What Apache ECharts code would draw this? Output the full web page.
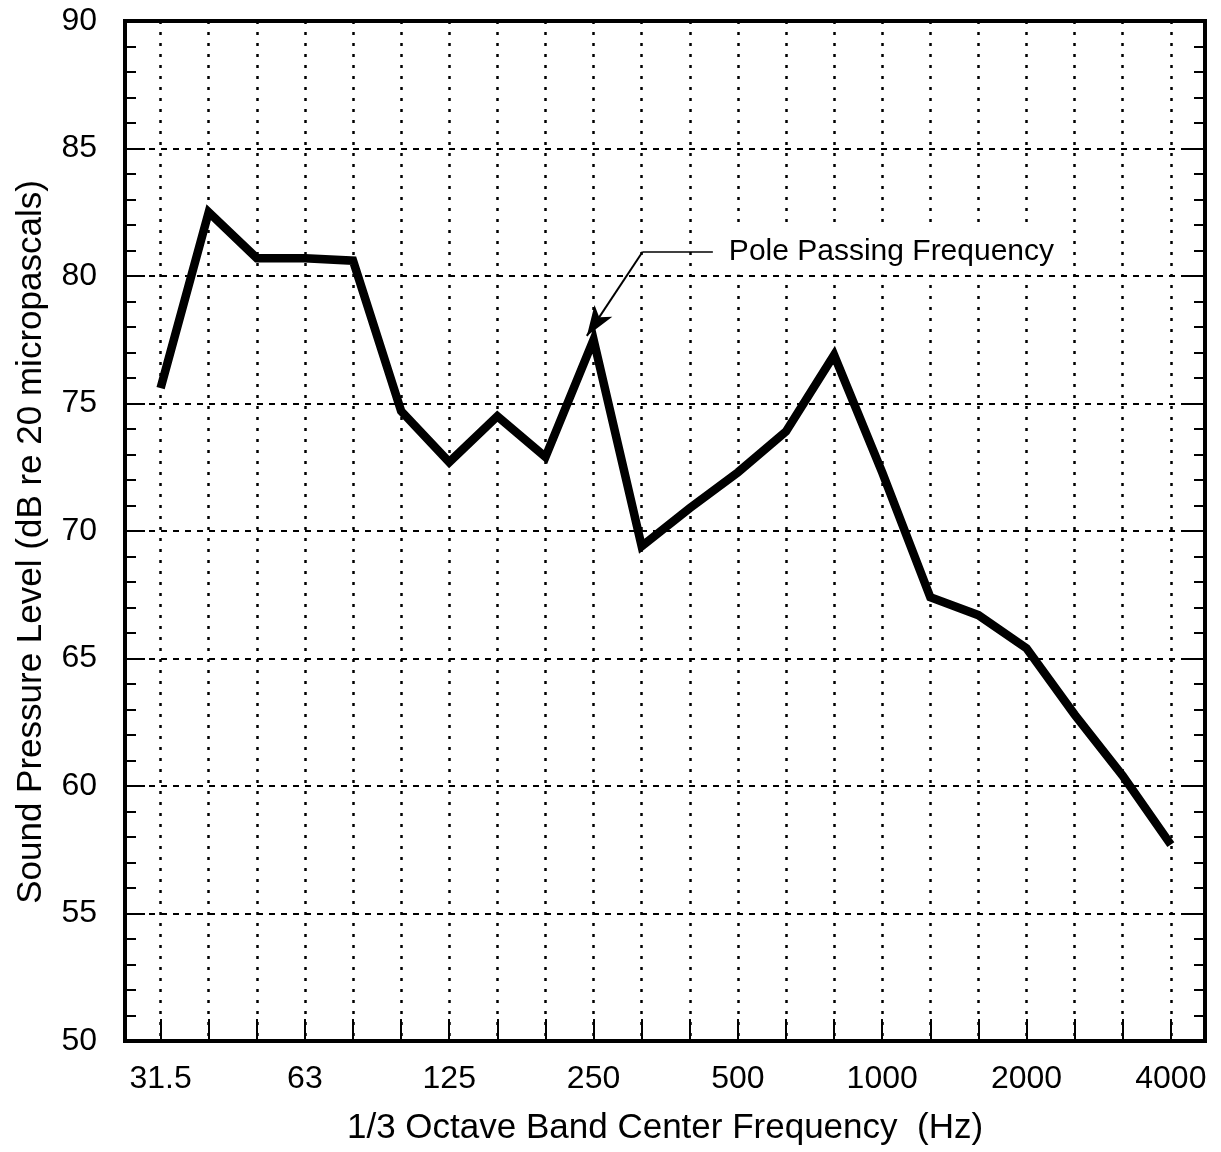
<!DOCTYPE html>
<html>
<head>
<meta charset="utf-8">
<script src="https://cdn.jsdelivr.net/npm/echarts@6/dist/echarts.min.js"></script>
<style>
html,body{margin:0;padding:0;background:#fff;}
#chart{width:1221px;height:1152px;}
</style>
</head>
<body>
<div id="chart"></div>
<script>
// 1/3 octave band centre frequencies (Hz)
const freqLabels = ['31.5','40','50','63','80','100','125','160','200','250','315','400','500','630','800','1000','1250','1600','2000','2500','3150','4000'];
// Sound pressure level (dB re 20 micropascals)
const splValues = [75.6, 82.5, 80.7, 80.7, 80.6, 74.7, 72.7, 74.5, 72.9, 77.5, 69.4, 70.9, 72.3, 73.9, 76.9, 72.3, 67.4, 66.7, 65.4, 62.8, 60.4, 57.7];
// labelled x ticks
const labelledFreqs = ['31.5','63','125','250','500','1000','2000','4000'];
// y axis range / step
const yMin = 50, yMax = 90, yStep = 5;
// annotation anchor points in data units [band index, dB]
const annotationText = 'Pole Passing Frequency';
const annoKink = [10.02, 80.95];
const annoTextStart = [11.48, 80.95];
const annoTip = [8.86, 77.65];

const FONT = '"Liberation Sans", Arial, Helvetica, sans-serif';
const chart = echarts.init(document.getElementById('chart'), null, {renderer: 'canvas'});

const seriesData = splValues.map((v, i) => [i, v]);

const yAxisCommon = {
  type: 'value', min: yMin, max: yMax, interval: yStep,
  axisLine: {show: true, onZero: false, lineStyle: {color: '#000', width: 4}},
  axisTick: {show: true, inside: true, length: 20, lineStyle: {color: '#000', width: 2}},
  minorTick: {show: true, splitNumber: 5, length: 11, lineStyle: {color: '#000', width: 2}},
};

const option = {
  animation: false,
  backgroundColor: '#fff',
  grid: {left: 125, top: 21, right: 16, bottom: 111, show: true, borderColor: '#000', borderWidth: 4},
  xAxis: {
    type: 'value', min: -0.74, max: 21.71, splitNumber: 22, minInterval: 1, maxInterval: 1,
    axisLine: {show: true, onZero: false, lineStyle: {color: '#000', width: 4}},
    axisTick: {show: true, inside: true, length: 22, lineStyle: {color: '#000', width: 2}},
    splitLine: {show: true, lineStyle: {color: '#000', width: 2.5, type: [3, 8]}},
    axisLabel: {
      color: '#000', fontSize: 32, fontFamily: FONT, margin: 22, showMinLabel: true, showMaxLabel: true,
      formatter: function (v) {
        if (Math.abs(v - Math.round(v)) > 1e-6) return '';
        const lab = freqLabels[Math.round(v)];
        return labelledFreqs.indexOf(lab) >= 0 ? lab : '';
      }
    },
    name: '1/3 Octave Band Center Frequency  (Hz)',
    nameLocation: 'middle', nameGap: 70,
    nameTextStyle: {color: '#000', fontSize: 35, fontFamily: FONT}
  },
  yAxis: [
    Object.assign({}, yAxisCommon, {
      position: 'left',
      splitLine: {show: true, lineStyle: {color: '#000', width: 2, type: [6, 6]}},
      axisLabel: {color: '#000', fontSize: 32, fontFamily: FONT, margin: 28},
      name: 'Sound Pressure Level (dB re 20 micropascals)',
      nameLocation: 'middle', nameGap: 76,
      nameTextStyle: {color: '#000', fontSize: 35, fontFamily: FONT, padding: [0, 22, 0, 0]}
    }),
    Object.assign({}, yAxisCommon, {
      position: 'right',
      splitLine: {show: false},
      axisLabel: {show: false}
    })
  ],
  series: [{
    type: 'line',
    yAxisIndex: 0,
    data: seriesData,
    symbol: 'none',
    lineStyle: {color: '#000', width: 8.5, join: 'miter', cap: 'butt'},
    markLine: {
      silent: true,
      symbol: ['none', 'none'],
      animation: false,
      data: [
        [
          {coord: annoKink, symbol: 'none', lineStyle: {color: '#000', width: 1.5, type: 'solid'}},
          {coord: annoTextStart, symbol: 'none',
           label: {show: true, position: 'end', formatter: annotationText, color: '#000', fontSize: 30, fontFamily: FONT,
                   distance: 8, backgroundColor: '#fff', padding: [12, 10, 4, 8]}}
        ],
        [
          {coord: annoKink, symbol: 'none', lineStyle: {color: '#000', width: 2, type: 'solid'}},
          {coord: annoTip, symbol: 'arrow', symbolSize: [16, 30], label: {show: false}}
        ]
      ]
    }
  }]
};
chart.setOption(option);
</script>
</body>
</html>
